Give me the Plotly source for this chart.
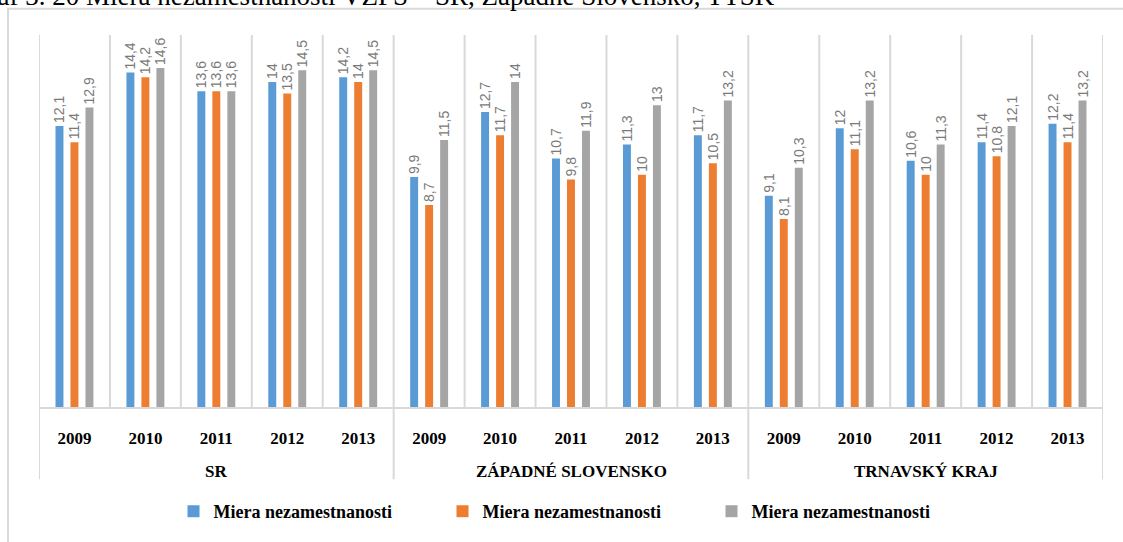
import plotly.graph_objects as go

regions = ["SR", "ZÁPADNÉ SLOVENSKO", "TRNAVSKÝ KRAJ"]
years = ["2009", "2010", "2011", "2012", "2013"]
series_names = ["Miera nezamestnanosti", "Miera nezamestnanosti", "Miera nezamestnanosti"]
colors = ["#5B9BD5", "#ED7D31", "#A5A5A5"]

blue_vals = [12.1, 14.4, 13.6, 14.0, 14.2,
             9.9, 12.7, 10.7, 11.3, 11.7,
             9.1, 12.0, 10.6, 11.4, 12.2]
orange_vals = [11.4, 14.2, 13.6, 13.5, 14.0,
               8.7, 11.7, 9.8, 10.0, 10.5,
               8.1, 11.1, 10.0, 10.8, 11.4]
gray_vals = [12.9, 14.6, 13.6, 14.5, 14.5,
             11.5, 14.0, 11.9, 13.0, 13.2,
             10.3, 13.2, 11.3, 12.1, 13.2]

title_text = "Graf 3. 20 Miera nezamestnanosti VZPS – SR, Západné Slovensko, TTSK"

n_years = len(years)
positions = list(range(len(regions) * n_years))
tick_text = [y for _ in regions for y in years]

W, H = 1123, 542
ml, mr, mt, mb = 39, 20, 35, 126
pw, ph = W - ml - mr, H - mt - mb

def py(pix):
    """pixel y (from top) -> paper y"""
    return (H - mb - pix) / ph

def px(pix):
    return (pix - ml) / pw

def fmt(v):
    return f"{v:g}".replace(".", ",")

GRID = "#D9D9D9"
fig = go.Figure()
for name, col, vals in zip(series_names, colors, [blue_vals, orange_vals, gray_vals]):
    fig.add_trace(go.Bar(
        x=positions, y=vals, name=name,
        marker=dict(color=col, line=dict(width=0)),
        text=[fmt(v) for v in vals],
        textposition="outside", textangle=-90,
        constraintext="none", cliponaxis=False,
        textfont=dict(family="Liberation Sans", size=14, color="#7A7A7A"),
    ))

# category boundary lines inside plot
for k in range(len(positions) + 1):
    fig.add_shape(type="line", xref="x", yref="paper", x0=k - 0.5, x1=k - 0.5,
                  y0=0, y1=1, line=dict(color=GRID, width=2), layer="below")
# group dividers below axis
for g in range(len(regions) + 1):
    xv = g * n_years - 0.5
    fig.add_shape(type="line", xref="x", yref="paper", x0=xv, x1=xv,
                  y0=py(490), y1=0, line=dict(color=GRID, width=2), layer="below")
# group labels
for g, r in enumerate(regions):
    fig.add_annotation(text=r, xref="x", yref="paper", x=g * n_years + (n_years - 1) / 2,
                       y=py(482), yanchor="middle", showarrow=False,
                       font=dict(family="Liberation Serif", size=17, color="#000000", weight="bold"))

# outer chart border (left and top visible)
fig.add_shape(type="rect", xref="paper", yref="paper",
              x0=px(8), x1=px(W + 20), y0=py(H + 20), y1=py(8),
              line=dict(color=GRID, width=2), layer="below")

fig.add_annotation(text=title_text, xref="paper", yref="paper",
                   x=px(777), y=py(12),
                   xanchor="right", yanchor="bottom", showarrow=False,
                   font=dict(family="Liberation Serif", size=27, color="#000000"))

fig.update_layout(
    width=W, height=H,
    margin=dict(l=ml, r=mr, t=mt, b=mb),
    paper_bgcolor="white", plot_bgcolor="white",
    barmode="group", bargap=0.366, bargroupgap=0.47,
    showlegend=True,
    legend=dict(orientation="h", x=px(577), xanchor="center", y=py(523), yanchor="middle",
                font=dict(family="Liberation Serif", size=18, color="#000000", weight="bold"),
                entrywidth=224, entrywidthmode="pixels", traceorder="normal"),
    xaxis=dict(range=[-0.5, len(positions) - 0.5], tickmode="array",
               tickvals=positions, ticktext=tick_text, showgrid=False, zeroline=False,
               showline=True, linecolor=GRID, linewidth=2, ticks="",
               ticklabelstandoff=15,
               tickfont=dict(family="Liberation Serif", size=17, color="#000000", weight="bold")),
    yaxis=dict(range=[0, 16.02], visible=False, showgrid=False, zeroline=False),
)

fig.write_html("out.html", config={"displayModeBar": False},
               post_script="document.body.style.margin='0';")
